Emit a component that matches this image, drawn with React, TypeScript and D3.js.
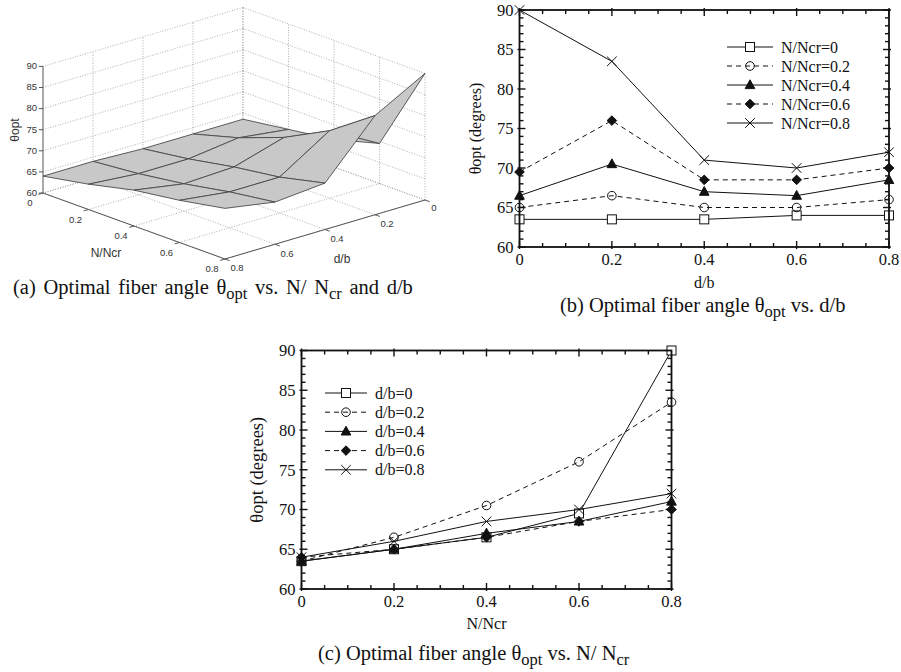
import React from 'react';
import * as d3 from 'd3';

// ---- data ----
const dbValues = [0, 0.2, 0.4, 0.6, 0.8];      // d/b
const nncrValues = [0, 0.2, 0.4, 0.6, 0.8];    // N/Ncr
// theta_opt vs d/b for each N/Ncr
const thetaN00 = [63.5, 63.5, 63.5, 64, 64];
const thetaN02 = [65, 66.5, 65, 65, 66];
const thetaN04 = [66.5, 70.5, 67, 66.5, 68.5];
const thetaN06 = [69.5, 76, 68.5, 68.5, 70];
const thetaN08 = [90, 83.5, 71, 70, 72];
const thetaTicks = [60, 65, 70, 75, 80, 85, 90];
const ratioTicks = [0, 0.2, 0.4, 0.6, 0.8];
const ratioTickLabels = ['0', '0.2', '0.4', '0.6', '0.8'];
const legendB = ['N/Ncr=0', 'N/Ncr=0.2', 'N/Ncr=0.4', 'N/Ncr=0.6', 'N/Ncr=0.8'];
const legendC = ['d/b=0', 'd/b=0.2', 'd/b=0.4', 'd/b=0.6', 'd/b=0.8'];
const markerKinds = ['square', 'circle', 'triangle', 'diamond', 'x'];
const dashedFlags = [false, true, false, true, false];

const matrix = [thetaN00, thetaN02, thetaN04, thetaN06, thetaN08]; // [N][d]
const transposed = dbValues.map((_, j) => matrix.map(row => row[j])); // [d][N]

const SERIF = '"Liberation Serif", "Times New Roman", serif';
const SANS = '"Liberation Sans", Arial, Helvetica, sans-serif';

function Marker({ kind, x, y }: { kind: string; x: number; y: number }) {
  const st = { stroke: '#111', strokeWidth: 1 };
  switch (kind) {
    case 'square':
      return <rect x={x - 4.5} y={y - 4.5} width={9} height={9} fill="white" {...st} />;
    case 'circle':
      return <circle cx={x} cy={y} r={4.3} fill="none" {...st} />;
    case 'triangle':
      return <path d={`M${x},${y - 5.2}L${x + 4.8},${y + 3.6}L${x - 4.8},${y + 3.6}Z`} fill="#111" {...st} />;
    case 'diamond':
      return <path d={`M${x},${y - 4.8}L${x + 4.8},${y}L${x},${y + 4.8}L${x - 4.8},${y}Z`} fill="#111" {...st} />;
    default:
      return <path d={`M${x - 4.8},${y - 4.8}L${x + 4.8},${y + 4.8}M${x - 4.8},${y + 4.8}L${x + 4.8},${y - 4.8}`} fill="none" {...st} />;
  }
}

type PanelProps = {
  x0: number; x1: number; y0: number; y1: number;
  series: number[][];
  legend: string[];
  legX: number; legY: number; legStep: number; legLen: number;
  xLabel: string; xLabelY: number;
  yLabelX: number; yLabelSize: number;
};

function Panel2D(p: PanelProps) {
  const x = d3.scaleLinear().domain([0, 0.8]).range([p.x0, p.x1]);
  const y = d3.scaleLinear().domain([60, 90]).range([p.y1, p.y0]);
  const line = d3.line<number>().x((_, i) => x(ratioTicks[i])).y(v => y(v));
  const minorX = d3.range(0, 0.8001, 0.05).filter(v => Math.abs(v / 0.2 - Math.round(v / 0.2)) > 1e-6);
  const minorY = d3.range(60, 90.001, 1).filter(v => v % 5 !== 0);
  const tk = { stroke: '#111', strokeWidth: 1.4 };
  return (
    <g>
      {/* ticks */}
      {ratioTicks.map((t, i) => (
        <g key={'mx' + i}>
          <line x1={x(t)} x2={x(t)} y1={p.y1 + 2} y2={p.y1 - 6} {...tk} />
          <line x1={x(t)} x2={x(t)} y1={p.y0 - 2} y2={p.y0 + 6} {...tk} />
        </g>
      ))}
      {minorX.map((t, i) => (
        <g key={'nx' + i}>
          <line x1={x(t)} x2={x(t)} y1={p.y1} y2={p.y1 - 4} {...tk} />
          <line x1={x(t)} x2={x(t)} y1={p.y0} y2={p.y0 + 4} {...tk} />
        </g>
      ))}
      {thetaTicks.map((t, i) => (
        <g key={'my' + i}>
          <line x1={p.x0 - 2} x2={p.x0 + 6} y1={y(t)} y2={y(t)} {...tk} />
          <line x1={p.x1 + 2} x2={p.x1 - 6} y1={y(t)} y2={y(t)} {...tk} />
        </g>
      ))}
      {minorY.map((t, i) => (
        <g key={'ny' + i}>
          <line x1={p.x0} x2={p.x0 + 4} y1={y(t)} y2={y(t)} {...tk} />
          <line x1={p.x1} x2={p.x1 - 4} y1={y(t)} y2={y(t)} {...tk} />
        </g>
      ))}
      {/* series */}
      {p.series.map((s, k) => (
        <g key={'s' + k}>
          <path d={line(s) || ''} fill="none" stroke="#111" strokeWidth={1}
            strokeDasharray={dashedFlags[k] ? '5,4' : undefined} />
          {s.map((v, i) => <Marker key={i} kind={markerKinds[k]} x={x(ratioTicks[i])} y={y(v)} />)}
        </g>
      ))}
      <rect x={p.x0} y={p.y0} width={p.x1 - p.x0} height={p.y1 - p.y0} fill="none" stroke="#111" strokeWidth={1.8} />
      {/* tick labels */}
      {thetaTicks.map((t, i) => (
        <text key={'yl' + i} x={p.x0 - 6} y={y(t)} dy="0.35em" textAnchor="end" fontFamily={SERIF} fontSize={16.5} fill="#111">{t}</text>
      ))}
      {ratioTicks.map((t, i) => (
        <text key={'xl' + i} x={x(t)} y={p.y1 + 18} textAnchor="middle" fontFamily={SERIF} fontSize={16.5} fill="#111">{ratioTickLabels[i]}</text>
      ))}
      <text x={(p.x0 + p.x1) / 2} y={p.xLabelY} textAnchor="middle" fontFamily={SERIF} fontSize={16} fill="#111">{p.xLabel}</text>
      <text transform={`translate(${p.yLabelX},${(p.y0 + p.y1) / 2}) rotate(-90)`} textAnchor="middle" fontFamily={SERIF} fontSize={p.yLabelSize} fill="#111">θopt (degrees)</text>
      {/* legend */}
      {p.legend.map((lab, k) => {
        const ly = p.legY + k * p.legStep;
        return (
          <g key={'lg' + k}>
            <line x1={p.legX} x2={p.legX + p.legLen} y1={ly} y2={ly} stroke="#111" strokeWidth={1}
              strokeDasharray={dashedFlags[k] ? '5,4' : undefined} />
            <Marker kind={markerKinds[k]} x={p.legX + p.legLen / 2} y={ly} />
            <text x={p.legX + p.legLen + 8} y={ly} dy="0.35em" fontFamily={SERIF} fontSize={16} fill="#111">{lab}</text>
          </g>
        );
      })}
    </g>
  );
}

function Panel3D() {
  // oblique projection of (N/Ncr, d/b, theta)
  const nToX = d3.scaleLinear().domain([0, 0.8]).range([0, 182]);
  const nToY = d3.scaleLinear().domain([0, 0.8]).range([0, 66]);
  const dToX = d3.scaleLinear().domain([0, 0.8]).range([0, -200]);
  const dToY = d3.scaleLinear().domain([0, 0.8]).range([0, 59]);
  const zToY = d3.scaleLinear().domain([60, 90]).range([0, -126.6]);
  const ox = 243, oy = 134;
  const P = (n: number, d: number, z: number): [number, number] =>
    [ox + nToX(n) + dToX(d), oy + nToY(n) + dToY(d) + zToY(z)];
  const seg = (a: [number, number], b: [number, number]) => `M${a[0]},${a[1]}L${b[0]},${b[1]}`;

  const grid: string[] = [];
  thetaTicks.forEach(z => {
    grid.push(seg(P(0, 0, z), P(0.8, 0, z)));
    grid.push(seg(P(0, 0, z), P(0, 0.8, z)));
  });
  ratioTicks.forEach(n => {
    grid.push(seg(P(n, 0, 60), P(n, 0, 90)));
    grid.push(seg(P(n, 0, 60), P(n, 0.8, 60)));
  });
  ratioTicks.forEach(d => {
    if (d < 0.8) grid.push(seg(P(0, d, 60), P(0, d, 90)));
    grid.push(seg(P(0, d, 60), P(0.8, d, 60)));
  });

  const quads: { depth: number; pts: [number, number][] }[] = [];
  for (let i = 0; i < 4; i++) {
    for (let j = 0; j < 4; j++) {
      const pts: [number, number][] = [
        P(nncrValues[i], dbValues[j], matrix[i][j]),
        P(nncrValues[i + 1], dbValues[j], matrix[i + 1][j]),
        P(nncrValues[i + 1], dbValues[j + 1], matrix[i + 1][j + 1]),
        P(nncrValues[i], dbValues[j + 1], matrix[i][j + 1]),
      ];
      const nc = (nncrValues[i] + nncrValues[i + 1]) / 2;
      const dc = (dbValues[j] + dbValues[j + 1]) / 2;
      quads.push({ depth: nToY(nc) + dToY(dc), pts });
    }
  }
  quads.sort((a, b) => a.depth - b.depth);

  const axisCol = '#555';
  const txtCol = '#333';
  const left0 = P(0, 0.8, 60);
  return (
    <g>
      <path d={grid.join('')} stroke="#9a9a9a" strokeWidth={0.8} strokeDasharray="1,1.6" fill="none" />
      {quads.map((q, k) => (
        <path key={k} d={'M' + q.pts.map(p => p.join(',')).join('L') + 'Z'} fill="#c8c8c8" stroke="#4a4a4a" strokeWidth={0.9} strokeLinejoin="round" />
      ))}
      {/* axes */}
      <path d={seg(P(0, 0.8, 60), P(0, 0.8, 90))} stroke={axisCol} strokeWidth={1} />
      <path d={seg(P(0, 0.8, 60), P(0.8, 0.8, 60))} stroke={axisCol} strokeWidth={1} />
      <path d={seg(P(0.8, 0.8, 60), P(0.8, 0, 60))} stroke={axisCol} strokeWidth={1} />
      {thetaTicks.map((z, i) => {
        const p = P(0, 0.8, z);
        return (
          <g key={'zt' + i}>
            <line x1={p[0]} x2={p[0] - 4} y1={p[1]} y2={p[1]} stroke={axisCol} strokeWidth={1} />
            <text x={p[0] - 6} y={p[1] - 0.5} dy="0.35em" textAnchor="end" fontFamily={SANS} fontSize={9.5} fill={txtCol}>{z}</text>
          </g>
        );
      })}
      {ratioTicks.map((n, i) => {
        const p = P(n, 0.8, 60);
        return (
          <g key={'nt' + i}>
            <line x1={p[0]} x2={p[0] - 4.8} y1={p[1]} y2={p[1] + 1.4} stroke={axisCol} strokeWidth={1} />
            <text x={p[0] - 13} y={p[1] + 10} dy="0.35em" textAnchor="middle" fontFamily={SANS} fontSize={9.5} fill={txtCol}>{ratioTickLabels[i]}</text>
          </g>
        );
      })}
      {ratioTicks.map((d, i) => {
        const p = P(0.8, d, 60);
        return (
          <g key={'dt' + i}>
            <line x1={p[0]} x2={p[0] + 4.7} y1={p[1]} y2={p[1] + 1.7} stroke={axisCol} strokeWidth={1} />
            <text x={p[0] + (i === 0 ? 9 : 12)} y={p[1] + (i === 0 ? 7.5 : 9)} dy="0.35em" textAnchor="middle" fontFamily={SANS} fontSize={9.5} fill={txtCol}>{ratioTickLabels[i]}</text>
          </g>
        );
      })}
      <text transform={`translate(${left0[0] - 24},${130}) rotate(-90)`} textAnchor="middle" fontFamily={SANS} fontSize={12} fill={txtCol}>θopt</text>
      <text x={106} y={257} textAnchor="middle" fontFamily={SANS} fontSize={12} fill={txtCol}>N/Ncr</text>
      <text x={342} y={263} textAnchor="middle" fontFamily={SANS} fontSize={12} fill={txtCol}>d/b</text>
    </g>
  );
}

export default function App() {
  return (
    <svg width={901} height={672} style={{ position: 'absolute', left: 0, top: 0, background: 'white' }}>
      <rect x={0} y={0} width={901} height={672} fill="white" />
      <Panel3D />
      <Panel2D x0={519.5} x1={889} y0={10} y1={247} series={matrix} legend={legendB}
        legX={727} legY={47} legStep={19} legLen={46}
        xLabel="d/b" xLabelY={288} yLabelX={481} yLabelSize={16} />
      <Panel2D x0={301.5} x1={671.5} y0={350.5} y1={589} series={transposed} legend={legendC}
        legX={325} legY={393} legStep={19.2} legLen={42}
        xLabel="N/Ncr" xLabelY={629} yLabelX={263} yLabelSize={18.5} />
      <text x={13} y={294} fontFamily={SERIF} fontSize={20.5} wordSpacing={2.5} fill="#111">
        (a) Optimal fiber angle θ<tspan dy="5" fontSize={16.5}>opt</tspan><tspan dy="-5"> vs. N/ N</tspan><tspan dy="5" fontSize={16.5}>cr</tspan><tspan dy="-5"> and d/b</tspan>
      </text>
      <text x={560} y={312} fontFamily={SERIF} fontSize={20.5} fill="#111">
        (b) Optimal fiber angle θ<tspan dy="5" fontSize={16.5}>opt</tspan><tspan dy="-5"> vs. d/b</tspan>
      </text>
      <text x={318} y={660} fontFamily={SERIF} fontSize={20.5} fill="#111">
        (c) Optimal fiber angle θ<tspan dy="5" fontSize={16.5}>opt</tspan><tspan dy="-5"> vs. N/ N</tspan><tspan dy="5" fontSize={16.5}>cr</tspan>
      </text>
    </svg>
  );
}
